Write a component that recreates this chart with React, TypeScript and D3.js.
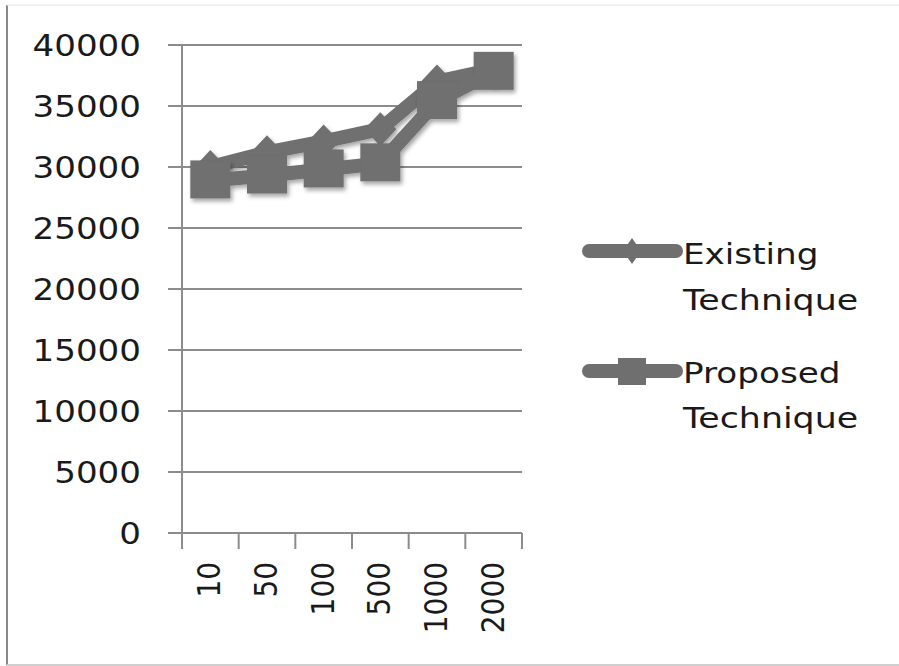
import React from "react";
import * as d3 from "d3";

const categories = ["10", "50", "100", "500", "1000", "2000"];
const existingValues = [30000, 31200, 32100, 33100, 37000, 38000];
const proposedValues = [28900, 29300, 29800, 30300, 35400, 37800];
const yTicks = [0, 5000, 10000, 15000, 20000, 25000, 30000, 35000, 40000];
const seriesNames = ["Existing", "Proposed"];

const W = 899;
const H = 666;
const plot = { left: 182, right: 522, top: 45, bottom: 533 };
const grey = "#6f6f6f";
const font = "'DejaVu Sans', Verdana, sans-serif";

export default function App() {
  const x = d3
    .scaleBand<string>()
    .domain(categories)
    .range([plot.left, plot.right]);
  const y = d3.scaleLinear().domain([0, 40000]).range([plot.bottom, plot.top]);

  const line = d3
    .line<number>()
    .x((_, i) => (x(categories[i]) as number) + x.bandwidth() / 2)
    .y((v) => y(v));

  const diamond = (cx: number, cy: number, hw: number, hh: number) =>
    `M${cx},${cy - hh}L${cx + hw},${cy}L${cx},${cy + hh}L${cx - hw},${cy}Z`;

  const cx = (i: number) => (x(categories[i]) as number) + x.bandwidth() / 2;
  const sq = 40;

  return (
    <svg
      width={W}
      height={H}
      style={{ position: "absolute", left: 0, top: 0, background: "#fff" }}
    >
      <defs>
        <filter id="shadow" x="-20%" y="-20%" width="140%" height="140%">
          <feDropShadow dx="2" dy="3" stdDeviation="2" floodColor="#000" floodOpacity="0.35" />
        </filter>
      </defs>

      {/* frame */}
      <line x1={7} y1={5} x2={7} y2={665} stroke="#8a8a8a" strokeWidth={2} />
      <line x1={7} y1={5} x2={W} y2={5} stroke="#eeeeee" strokeWidth={1.5} />
      <line x1={7} y1={665} x2={W} y2={665} stroke="#cfcfcf" strokeWidth={2} />

      {/* horizontal gridlines and y ticks */}
      {yTicks.map((t) => (
        <g key={t}>
          <line
            x1={168}
            x2={plot.right}
            y1={y(t)}
            y2={y(t)}
            stroke="#8c8c8c"
            strokeWidth={2}
          />
          <text
            transform={`translate(141,${y(t) + 11}) scale(1.1,1)`}
            textAnchor="end"
            fontFamily={font}
            fontSize={31}
            fill="#1a1a1a"
          >
            {t}
          </text>
        </g>
      ))}

      {/* y axis */}
      <line
        x1={plot.left}
        x2={plot.left}
        y1={plot.top}
        y2={plot.bottom + 14}
        stroke="#8c8c8c"
        strokeWidth={2}
      />

      {/* x axis ticks */}
      {categories.concat(["end"]).map((c, i) => {
        const px = plot.left + i * x.bandwidth();
        return (
          <line
            key={c}
            x1={px}
            x2={px}
            y1={plot.bottom}
            y2={plot.bottom + 16}
            stroke="#8c8c8c"
            strokeWidth={2}
          />
        );
      })}

      {/* x labels */}
      {categories.map((c, i) => (
        <text
          key={c}
          transform={`translate(${cx(i) + 10},562) rotate(-90) scale(1,1.15)`}
          textAnchor="end"
          fontFamily={font}
          fontSize={28}
          fill="#1a1a1a"
        >
          {c}
        </text>
      ))}

      {/* Existing Technique */}
      <g filter="url(#shadow)">
        <path
          d={line(existingValues) as string}
          fill="none"
          stroke={grey}
          strokeWidth={14}
          strokeLinejoin="round"
        />
        {existingValues.map((v, i) => (
          <path key={i} d={diamond(cx(i), y(v), 16, 17)} fill={grey} />
        ))}
      </g>

      {/* Proposed Technique */}
      <g filter="url(#shadow)">
        <path
          d={line(proposedValues) as string}
          fill="none"
          stroke={grey}
          strokeWidth={14}
          strokeLinejoin="round"
        />
        {proposedValues.map((v, i) => (
          <rect
            key={i}
            x={cx(i) - sq / 2}
            y={y(v) - sq / 2}
            width={sq}
            height={sq - 2}
            fill={grey}
          />
        ))}
      </g>

      {/* legend */}
      <g>
        <line x1={589} x2={676} y1={251} y2={251} stroke={grey} strokeWidth={14} strokeLinecap="round" />
        <path d={diamond(632, 251, 9, 13)} fill={grey} />
        <text transform="translate(683,264) scale(1.18,1)" fontFamily={font} fontSize={29} fill="#1a1a1a">
          {seriesNames[0]}
        </text>
        <text transform="translate(683,310) scale(1.2,1)" fontFamily={font} fontSize={29} fill="#1a1a1a">
          Technique
        </text>

        <line x1={589} x2={676} y1={371} y2={371} stroke={grey} strokeWidth={14} strokeLinecap="round" />
        <rect x={618} y={358} width={28} height={27} fill={grey} />
        <text transform="translate(683,383) scale(1.18,1)" fontFamily={font} fontSize={29} fill="#1a1a1a">
          {seriesNames[1]}
        </text>
        <text transform="translate(683,428) scale(1.2,1)" fontFamily={font} fontSize={29} fill="#1a1a1a">
          Technique
        </text>
      </g>
    </svg>
  );
}
